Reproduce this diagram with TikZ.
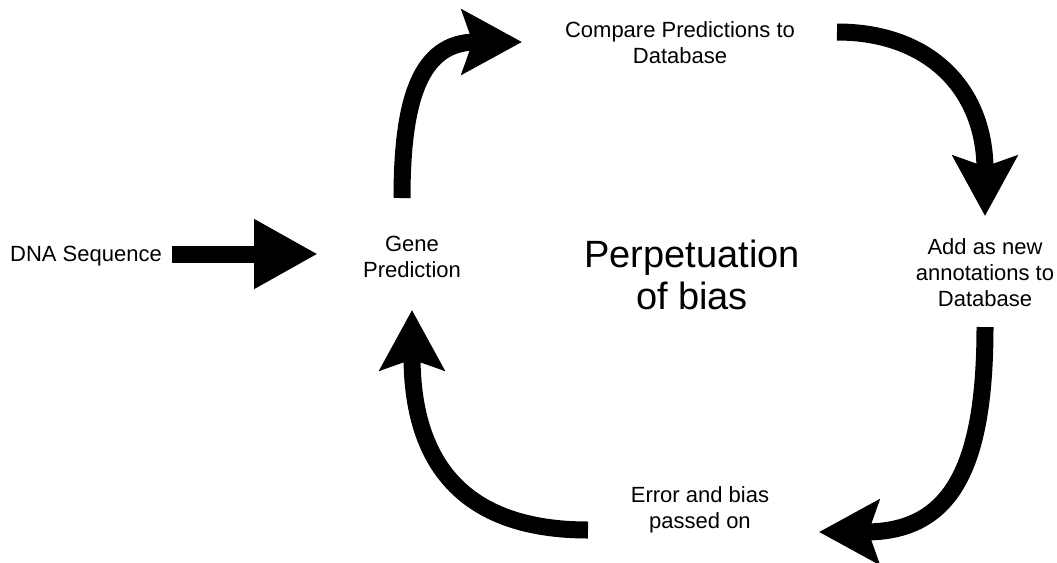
\documentclass[tikz,border=0pt]{standalone}
\usepackage{fontspec}
\setmainfont{Liberation Sans}
\usetikzlibrary{arrows.meta}
\begin{document}
\begin{tikzpicture}[x=0.75pt,y=-0.75pt,
  lbl/.style={align=center,inner sep=0pt,font=\fontsize{16.5pt}{19.5pt}\selectfont},
  big/.style={align=center,inner sep=0pt,font=\fontsize{28.5pt}{31.5pt}\selectfont},
  flow/.style={line width=12.75pt,line cap=butt,-{Stealth[length=45pt,width=48pt,inset=8pt]}},
  straight/.style={line width=12.75pt,line cap=butt,-{Triangle[length=48pt,width=49pt]}}]
\useasboundingbox (0,0) rectangle (1057,562);
\node[lbl] (dna) at (86,256) {DNA Sequence};
\node[lbl] (gene) at (412,257) {Gene\\Prediction};
\node[lbl] (cmp) at (680,43) {Compare Predictions to\\Database};
\node[big] (perp) at (692,275) {Perpetuation\\of bias};
\node[lbl] (add) at (985,273) {Add as new\\annotations to\\Database};
\node[lbl] (err) at (700,510) {Error and bias\\passed on};
\coordinate (s0) at (172,254);
\coordinate (t0) at (318,254);
\coordinate (s1) at (402,198);
\coordinate (t1) at (522,42);
\coordinate (s2) at (837,32);
\coordinate (t2) at (985,216);
\coordinate (s3) at (985,327);
\coordinate (t3) at (819,532);
\coordinate (s4) at (588,530);
\coordinate (t4) at (412,310);
\draw[straight] (s0) -- (t0);
\draw[flow] (s1) .. controls (402,100) and (420,42) .. (t1);
\draw[flow] (s2) .. controls (930,32) and (985,90) .. (t2);
\draw[flow] (s3) .. controls (985,470) and (950,532) .. (t3);
\draw[flow] (s4) .. controls (470,530) and (412,470) .. (t4);
\end{tikzpicture}
\end{document}
